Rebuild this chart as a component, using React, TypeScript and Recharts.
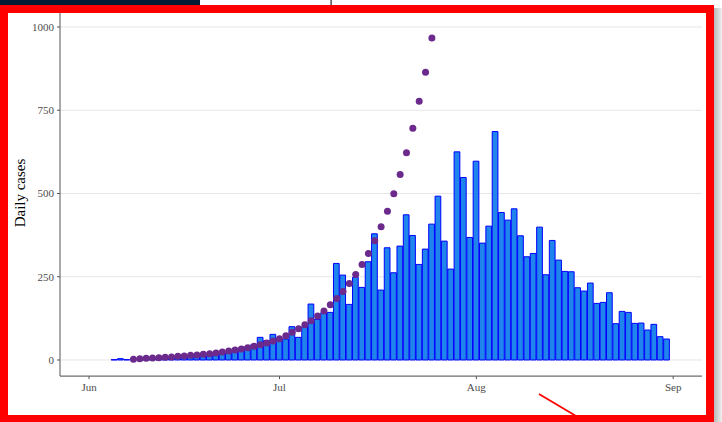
import React from "react";
import { ComposedChart, Bar, Line, XAxis, YAxis, CartesianGrid } from "recharts";

// day 0 = 1 June
const caseStartDay = 4;
const dailyCases = [
  1, 4, 1, 2, 3, 3, 4, 5, 6, 7,
  9, 8, 10, 12, 16, 13, 14, 17, 23, 27,
  35, 40, 47, 68, 58, 77, 62, 63, 100, 68,
  100, 168, 122, 142, 143, 290, 255, 167, 248, 218,
  295, 379, 210, 337, 262, 342, 436, 374, 287, 333,
  408, 492, 357, 273, 625, 548, 368, 597, 351, 402,
  686, 443, 420, 454, 373, 310, 320, 399, 256, 359,
  300, 266, 265, 217, 207, 231, 170, 173, 202, 109,
  146, 143, 110, 111, 90, 107, 70, 63,
];

const fitStartDay = 7;
const fitCases = [
  2, 4, 5, 6, 7, 8, 9, 11, 12, 14,
  15, 17, 19, 21, 24, 27, 30, 33, 37, 41,
  46, 51, 57, 64, 73, 83, 94, 106, 118, 132,
  147, 166, 185, 206, 230, 257, 287, 320, 358, 400,
  447, 499, 557, 622, 696, 777, 864, 967,
];

const monthTicks = [0, 30, 61, 92];
const monthLabels = ["Jun", "Jul", "Aug", "Sep"];
const yTicks = [0, 250, 500, 750, 1000];

const rows = dailyCases.map((v, i) => {
  const day = caseStartDay + i;
  const fi = day - fitStartDay;
  return { day, cases: v, fit: fi >= 0 && fi < fitCases.length ? fitCases[fi] : null };
});

const X_DOMAIN: [number, number] = [-4.57, 96.54];
const Y_DOMAIN: [number, number] = [-48.35, 1050];
const PLOT_W = 642;
const barW = PLOT_W / (X_DOMAIN[1] - X_DOMAIN[0]);

const tickStyle = { fontFamily: "Liberation Serif", fontSize: 11, fill: "#4d4d4d" };

export default function App() {
  return (
    <div style={{ position: "absolute", left: 0, top: 0, width: 722, height: 422, background: "#fff" }}>
      <ComposedChart
        width={722}
        height={422}
        data={rows}
        margin={{ top: 10.35, right: 20, bottom: 15.9, left: 0 }}
        barCategoryGap={0}
        barGap={0}
      >
        <CartesianGrid vertical={false} stroke="#e6e6e6" strokeWidth={1} />
        <XAxis
          dataKey="day"
          type="number"
          domain={X_DOMAIN}
          allowDataOverflow
          ticks={monthTicks}
          interval={0}
          tickFormatter={(v: number) => monthLabels[monthTicks.indexOf(v)]}
          tick={tickStyle}
          tickSize={3}
          tickMargin={4}
          height={30}
          stroke="#555"
        />
        <YAxis
          type="number"
          domain={Y_DOMAIN}
          allowDataOverflow
          ticks={yTicks}
          interval={0}
          tick={tickStyle}
          tickSize={3}
          tickMargin={3}
          width={60}
          stroke="#555"
        />
        <Bar
          dataKey="cases"
          fill="#1f84ec"
          stroke="#0000ff"
          strokeWidth={1}
          barSize={barW}
          isAnimationActive={false}
        />
        <Line
          dataKey="fit"
          stroke="none"
          dot={{ r: 3.5, fill: "#6b2a8c", stroke: "none" }}
          activeDot={false}
          legendType="none"
          isAnimationActive={false}
        />
      </ComposedChart>

      <svg
        width={722}
        height={422}
        style={{ position: "absolute", left: 0, top: 0, pointerEvents: "none" }}
      >
        <defs>
          <linearGradient id="shade" x1="0" x2="1" y1="0" y2="0">
            <stop offset="0" stopColor="#b8b8b8" />
            <stop offset="1" stopColor="#f0f0f0" />
          </linearGradient>
        </defs>
        <text
          x={25}
          y={193}
          transform="rotate(-90 25 193)"
          textAnchor="middle"
          fontFamily="Liberation Serif"
          fontSize={15}
          fill="#000"
        >
          Daily cases
        </text>
        <rect x={0} y={0} width={722} height={5} fill="#fff" />
        <rect x={0} y={0} width={200} height={5} fill="#021c35" />
        <rect x={330.5} y={0} width={1.2} height={5} fill="#222" />
        <rect x={714} y={8} width={8} height={414} fill="url(#shade)" />
        <rect x={0} y={5} width={714} height={8} fill="#ff0000" />
        <rect x={0} y={5} width={8} height={417} fill="#ff0000" />
        <rect x={706} y={5} width={8} height={417} fill="#ff0000" />
        <rect x={0} y={415} width={714} height={7} fill="#ff0000" />
        <line x1={539} y1={394} x2={576} y2={416} stroke="#ff0000" strokeWidth={1.8} />
      </svg>
    </div>
  );
}
